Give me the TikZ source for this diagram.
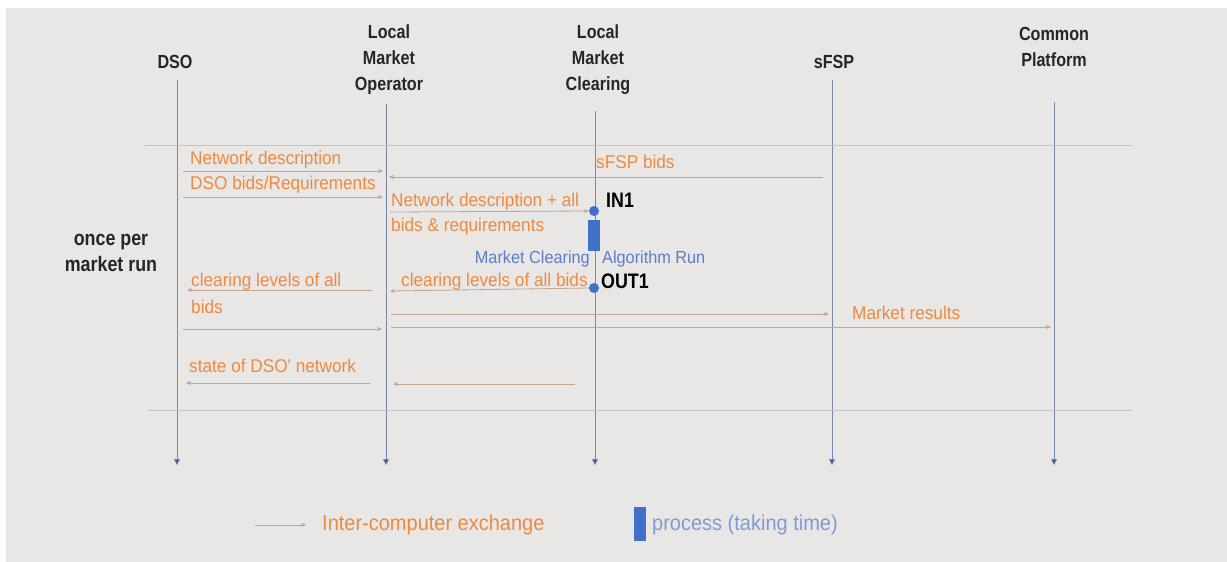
\documentclass[tikz,border=0pt]{standalone}
\usepackage{fontspec}
\setmainfont{Liberation Sans}
\newfontfamily\narrowfont{Liberation Sans}[FakeStretch=0.85]
\newfontfamily\labelfont{Liberation Sans}[FakeStretch=0.93]
\usetikzlibrary{arrows.meta}

\definecolor{bgcol}{HTML}{E9E6E6}
\definecolor{lifecol}{HTML}{7A86A8}
\definecolor{sepcol}{HTML}{BFC2CC}
\definecolor{orangetxt}{HTML}{EE8A3E}
\definecolor{msgcol}{HTML}{C4A48A}
\definecolor{tipcol}{HTML}{B8865E}
\definecolor{procblue}{HTML}{4070C8}
\definecolor{bluetxt}{HTML}{5B7FC7}
\definecolor{legblue}{HTML}{7C9CD6}

\tikzset{
  actor/.style={font=\narrowfont\fontsize{19}{26}\selectfont\bfseries, text=black!85, align=center, inner sep=0pt},
  lifeline/.style={draw=lifecol, line width=0.6pt, -{Triangle[length=6pt,width=6pt,fill=procblue!80!black]}},
  separator/.style={draw=sepcol, line width=0.8pt},
  msg/.style={draw=msgcol, line width=0.8pt, -{Stealth[length=5pt,width=4pt,fill=tipcol]}},
  msglabel/.style={font=\labelfont\fontsize{18.5}{25}\selectfont, text=orangetxt, anchor=west, inner sep=0pt, align=left},
  pointlabel/.style={font=\narrowfont\fontsize{21}{22}\selectfont\bfseries, text=black, anchor=west, inner sep=0pt},
  bluelabel/.style={font=\labelfont\fontsize{17.5}{20}\selectfont, text=bluetxt, inner sep=0pt},
  iodot/.style={circle, fill=procblue, minimum size=10pt, inner sep=0pt},
  procbar/.style={fill=procblue, draw=none},
  sidelabel/.style={font=\narrowfont\fontsize{21}{26}\selectfont\bfseries, text=black!85, align=center, inner sep=0pt},
  legendlabel/.style={font=\labelfont\fontsize{21.5}{22}\selectfont, anchor=west, inner sep=0pt}
}

\begin{document}
\begin{tikzpicture}[x=1pt, y=-1pt]
  % canvas
  \useasboundingbox (0,0) rectangle (1227,562);
  \fill[white] (0,0) rectangle (1227,562);
  \fill[bgcol] (6,8) rectangle (1227,562);

  % participants
  \node[actor] (dso)  at (175,62) {DSO};
  \node[actor] (lmo)  at (389,60) {Local\\Market\\Operator};
  \node[actor] (lmc)  at (598,60) {Local\\Market\\Clearing};
  \node[actor] (sfsp) at (834,62) {sFSP};
  \node[actor] (cp)   at (1054,47) {Common\\Platform};

  % lifelines
  \coordinate (dsoT) at (177,80);   \coordinate (dsoB) at (177,465);
  \coordinate (lmoT) at (386,104);  \coordinate (lmoB) at (386,465);
  \coordinate (lmcT) at (595,111);  \coordinate (lmcB) at (595,465);
  \coordinate (sfspT) at (832,80);  \coordinate (sfspB) at (832,465);
  \coordinate (cpT) at (1054,102);  \coordinate (cpB) at (1054,465);
  \draw[lifeline] (dsoT) -- (dsoB);
  \draw[lifeline] (lmoT) -- (lmoB);
  \draw[lifeline] (lmcT) -- (lmcB);
  \draw[lifeline] (sfspT) -- (sfspB);
  \draw[lifeline] (cpT) -- (cpB);

  % phase separators
  \coordinate (sepAl) at (145,145); \coordinate (sepAr) at (1132,145);
  \coordinate (sepBl) at (148,410); \coordinate (sepBr) at (1132,410);
  \draw[separator] (sepAl) -- (sepAr);
  \draw[separator] (sepBl) -- (sepBr);

  % phase label
  \node[sidelabel] (phase) at (111,253) {once per\\market run};

  % network description DSO -> LMO
  \node[msglabel] (l1) at (190,160) {Network description};
  \coordinate (m1a) at (183,171); \coordinate (m1b) at (383,171);
  \draw[msg] (m1a) -- (m1b);

  % sFSP bids sFSP -> LMO
  \node[msglabel] (l2) at (596,162) {sFSP bids};
  \coordinate (m2a) at (823,177); \coordinate (m2b) at (389,177);
  \draw[msg] (m2a) -- (m2b);

  % DSO bids DSO -> LMO
  \node[msglabel] (l3) at (190,185) {DSO bids/Requirements};
  \coordinate (m3a) at (183,197); \coordinate (m3b) at (383,197);
  \draw[msg] (m3a) -- (m3b);

  % everything forwarded LMO -> LMC
  \node[msglabel] (l4a) at (391,202) {Network description + all};
  \node[msglabel] (l4b) at (391,227) {bids \& requirements};
  \node[iodot] (in1) at (594,211) {};
  \node[pointlabel] (in1l) at (606,200) {IN1};
  \coordinate (m4a) at (390,212);
  \draw[msg] (m4a) -- (in1.west);

  % clearing run
  \fill[procbar] (588,220) rectangle (600,251);
  \node[bluelabel, anchor=east] (mcl) at (590,259) {Market Clearing};
  \node[bluelabel, anchor=west] (alr) at (602,259) {Algorithm Run};
  \node[iodot] (out1) at (594,288) {};
  \node[pointlabel] (out1l) at (601,281) {OUT1};

  % clearing results LMC -> LMO
  \node[msglabel] (l5) at (401,282) {clearing levels of all bids};
  \coordinate (m5b) at (390,291);
  \draw[msg] (out1.west) -- (m5b);

  % clearing results LMO -> DSO
  \node[msglabel] (l6a) at (191,282) {clearing levels of all};
  \node[msglabel] (l6b) at (191,307) {bids};
  \coordinate (m6a) at (372,290); \coordinate (m6b) at (187,290);
  \draw[msg] (m6a) -- (m6b);

  % market results LMO -> sFSP, LMO -> Common Platform
  \coordinate (m7a) at (391,314); \coordinate (m7b) at (829,314);
  \draw[msg] (m7a) -- (m7b);
  \node[msglabel] (l7) at (852,313) {Market results};
  \coordinate (m8a) at (391,327); \coordinate (m8b) at (1051,327);
  \draw[msg] (m8a) -- (m8b);

  % DSO -> LMO
  \coordinate (m9a) at (183,329); \coordinate (m9b) at (382,329);
  \draw[msg] (m9a) -- (m9b);

  % network state LMO -> DSO and LMC -> LMO
  \node[msglabel] (l10) at (189,366) {state of DSO' network};
  \coordinate (m10a) at (370,383); \coordinate (m10b) at (186,383);
  \draw[msg] (m10a) -- (m10b);
  \coordinate (m11a) at (575,384); \coordinate (m11b) at (393,384);
  \draw[msg] (m11a) -- (m11b);

  % legend
  \coordinate (lg1) at (255,525); \coordinate (lg2) at (306,525);
  \draw[msg] (lg1) -- (lg2);
  \node[legendlabel, text=orangetxt] (lgt1) at (322,525) {Inter-computer exchange};
  \fill[procbar] (634,507) rectangle (646,541);
  \node[legendlabel, text=legblue] (lgt2) at (652,525) {process (taking time)};
\end{tikzpicture}
\end{document}
